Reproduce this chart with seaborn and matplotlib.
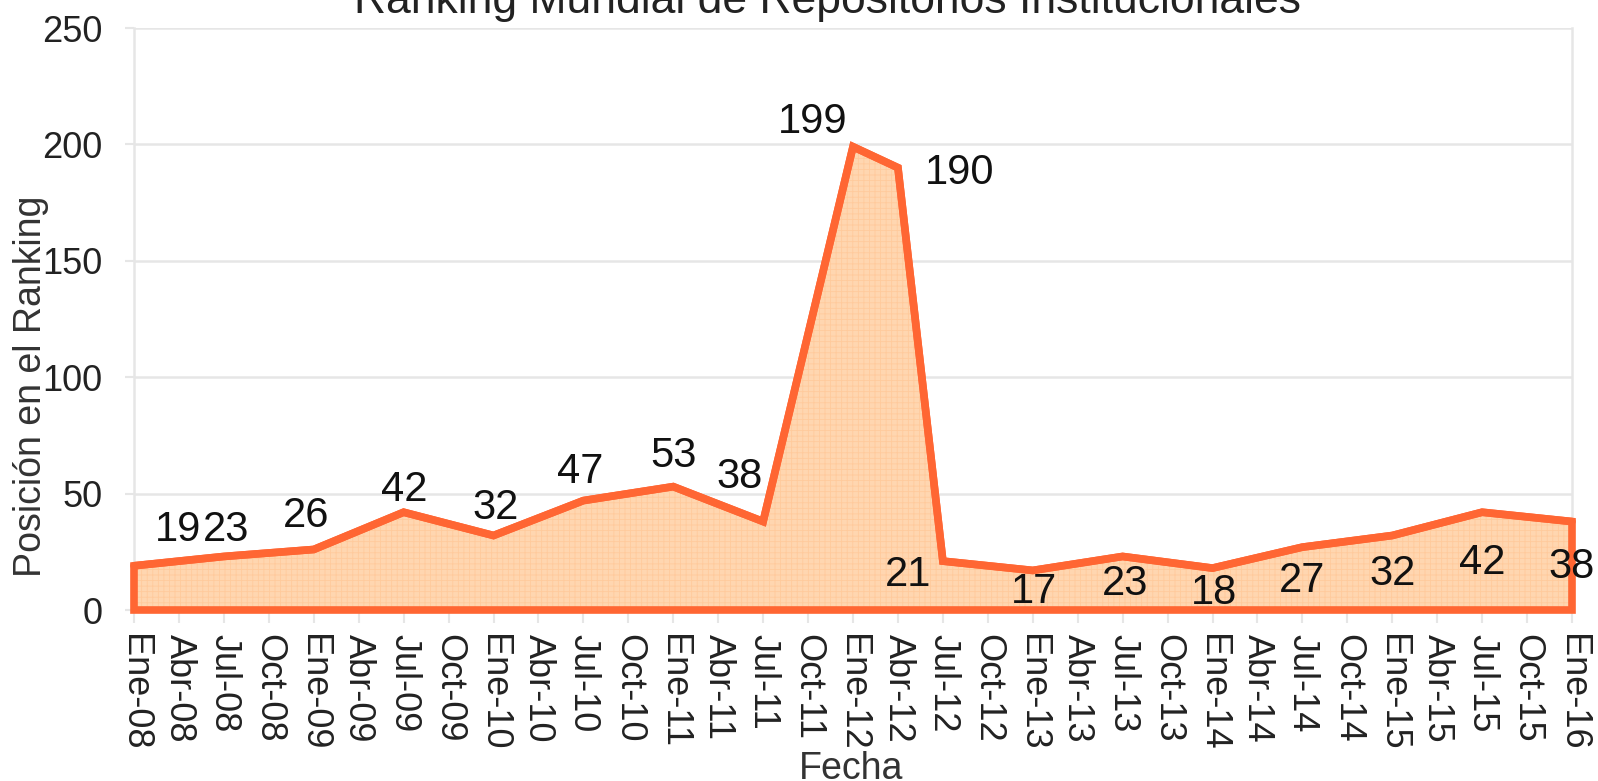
import matplotlib
matplotlib.use("Agg")
import matplotlib.pyplot as plt
import seaborn as sns
import pandas as pd

# ---- data ----
tick_labels = ["Ene-08", "Abr-08", "Jul-08", "Oct-08", "Ene-09", "Abr-09", "Jul-09", "Oct-09",
               "Ene-10", "Abr-10", "Jul-10", "Oct-10", "Ene-11", "Abr-11", "Jul-11", "Oct-11",
               "Ene-12", "Abr-12", "Jul-12", "Oct-12", "Ene-13", "Abr-13", "Jul-13", "Oct-13",
               "Ene-14", "Abr-14", "Jul-14", "Oct-14", "Ene-15", "Abr-15", "Jul-15", "Oct-15",
               "Ene-16"]
fechas = ["Ene-08", "Jul-08", "Ene-09", "Jul-09", "Ene-10", "Jul-10", "Ene-11", "Jul-11",
          "Ene-12", "Abr-12", "Jul-12", "Ene-13", "Jul-13", "Ene-14", "Jul-14", "Ene-15",
          "Jul-15", "Ene-16"]
posiciones = [19, 23, 26, 42, 32, 47, 53, 38, 199, 190, 21, 17, 23, 18, 27, 32, 42, 38]
y_ticks = [0, 50, 100, 150, 200, 250]

title = "Ranking Mundial de Repositorios Institucionales"
x_title = "Fecha"
y_title = "Posición en el Ranking"

# label placement offsets in pixels (dx, dy; dy positive = up)
label_offsets = [(44, 36), (2, 26), (-8, 33), (1, 22), (2, 28), (-3, 29), (0, 31), (-24, 45),
                 (-40, 25), (62, -5), (-35, -14), (1, -22), (2, -28), (2, -25), (0, -34),
                 (0, -38), (0, -51), (0, -45)]

# ---- style ----
sns.set_style("white")
plt.rcParams["font.family"] = ["Liberation Sans", "DejaVu Sans"]
plt.rcParams["hatch.linewidth"] = 0.6

LINE = "#FF6633"
FILL = "#FFD6B0"
HATCH = "#FFCA9C"
GRID = "#E6E6E6"

df = pd.DataFrame({"x": [tick_labels.index(f) for f in fechas], "y": posiciones})

W, H = 1598, 781
fig = plt.figure(figsize=(W / 100, H / 100), dpi=100)
x0, x1, yt, yb = 134, 1572, 28, 610
ax = fig.add_axes([x0 / W, 1 - yb / H, (x1 - x0) / W, (yb - yt) / H])

# area
ax.fill_between(df["x"], df["y"], 0, facecolor=FILL, edgecolor="none", linewidth=0, zorder=2)
ax.fill_between(df["x"], df["y"], 0, facecolor="none", edgecolor=HATCH, hatch="+++",
                linewidth=0, zorder=2.1)
outline = ax.fill_between(df["x"], df["y"], 0, facecolor="none", edgecolor=LINE,
                          linewidth=5.5, zorder=3, clip_on=False)
outline.set_joinstyle("miter")
sns.lineplot(data=df, x="x", y="y", color=LINE, linewidth=5.5, ax=ax, zorder=3.1,
             clip_on=False)
for line in ax.lines:
    line.set_solid_joinstyle("miter")

# data labels
for (xv, yv, (dx, dy)) in zip(df["x"], df["y"], label_offsets):
    ax.annotate(str(yv), (xv, yv), xytext=(dx, dy), textcoords="offset pixels",
                ha="center", va="center", fontsize=30, color="#111111", zorder=5,
                annotation_clip=False)

# axes
ax.set_xlim(0, len(tick_labels) - 1)
ax.set_ylim(0, 250)
ax.set_yticks(y_ticks)
ax.set_yticklabels([str(v) for v in y_ticks])
ax.set_xticks(range(len(tick_labels)))
ax.set_xticklabels(tick_labels, rotation=-90, ha="center", va="top")
ax.tick_params(axis="y", length=6.5, width=1.5, color=GRID, labelsize=26, pad=16,
               labelcolor="#222222", left=True)
ax.tick_params(axis="x", length=9, width=1.5, color=GRID, labelsize=26, pad=8,
               labelcolor="#222222", bottom=True)
ax.grid(axis="y", color=GRID, linewidth=1.8, zorder=0)
ax.set_axisbelow(True)
for side in ["top", "bottom"]:
    ax.spines[side].set_visible(False)
for side in ["left", "right"]:
    ax.spines[side].set_color(GRID)
    ax.spines[side].set_linewidth(1.8)
ax.set_xlabel("")
ax.set_ylabel("")

fig.text(827 / W, 1 - 13 / H, title, ha="center", va="baseline", fontsize=32, color="#222222")
fig.text(31 / W, 1 - 386 / H, y_title, rotation=90, ha="center", va="center", fontsize=27,
         color="#333333")
fig.text(851 / W, 1 - 751 / H, x_title, ha="center", va="top", fontsize=27, color="#333333")

fig.savefig("out.png", dpi=100)
